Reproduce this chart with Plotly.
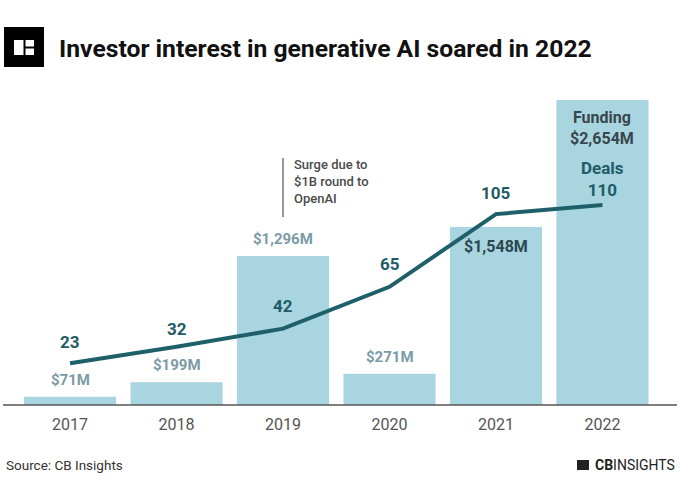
import plotly.graph_objects as go

years = ["2017", "2018", "2019", "2020", "2021", "2022"]
funding = [71, 199, 1296, 271, 1548, 2654]
deals = [23, 32, 42, 65, 105, 110]
funding_labels = ["$71M", "$199M", "$1,296M", "$271M", "$1,548M", "$2,654M"]

W, H = 680, 498
L, R, T, B = 3, 3, 95, 93
pw, ph = W - L - R, H - T - B

def px(x):
    return (x - L) / pw

def py(y):
    return 1 - (y - T) / ph

bar_color = "#a8d5e0"
line_color = "#1e5f69"
deal_txt = "#1f5c66"
fund_txt = "#7b9ba6"
font = "Roboto"

fig = go.Figure()
fig.add_trace(go.Bar(x=years, y=funding, marker_color=bar_color, marker_line_width=0,
                     hoverinfo="skip", yaxis="y"))
fig.add_trace(go.Scatter(x=years, y=deals, mode="lines", yaxis="y2",
                         line=dict(color=line_color, width=4), hoverinfo="skip"))

ann = []
# deal labels
for i, d in enumerate(deals):
    if i == 5:
        ann.append(dict(x=i, y=d, xref="x", yref="y2", text="<b>Deals<br>110</b>", showarrow=False,
                        yanchor="bottom", yshift=3, font=dict(family=font, size=17, color=deal_txt)))
    else:
        ys = [9, 6, 11, 11, 9][i]
        ann.append(dict(x=i, y=d, xref="x", yref="y2", text=f"<b>{d}</b>", showarrow=False,
                        yanchor="bottom", yshift=ys, font=dict(family=font, size=17, color=deal_txt)))
# funding labels
for i, (f, lab) in enumerate(zip(funding, funding_labels)):
    if i < 4:
        ann.append(dict(x=i, y=f, xref="x", yref="y", text=f"<b>{lab}</b>", showarrow=False,
                        yanchor="bottom", yshift=6, font=dict(family=font, size=15, color=fund_txt)))
    elif i == 4:
        ann.append(dict(x=i, y=f, xref="x", yref="y", text=f"<b>{lab}</b>", showarrow=False,
                        yanchor="top", yshift=-8, font=dict(family=font, size=16, color="#2e4650")))
    else:
        ann.append(dict(x=i, y=f, xref="x", yref="y", text=f"<b>Funding<br>{lab}</b>", showarrow=False,
                        yanchor="top", yshift=-6, font=dict(family=font, size=16, color="#38464d")))

# note
ann.append(dict(x=px(292), y=py(155), xref="paper", yref="paper", xanchor="left", yanchor="top",
                align="left", showarrow=False, text="Surge due to<br>$1B round to<br>OpenAI",
                font=dict(family=font, size=13, color="#4a4a4a", weight=500)))
# title
ann.append(dict(x=px(57), y=py(48), xref="paper", yref="paper", xanchor="left", yanchor="middle",
                showarrow=False, text="<b>Investor interest in generative AI soared in 2022</b>",
                font=dict(family=font, size=24.7, color="#111111")))
# source
ann.append(dict(x=px(4), y=py(465), xref="paper", yref="paper", xanchor="left", yanchor="middle",
                showarrow=False, text="Source: CB Insights",
                font=dict(family=font, size=13.5, color="#333333")))
ann.append(dict(x=px(677), y=py(465), xref="paper", yref="paper", xanchor="right", yanchor="middle",
                showarrow=False, text="<b>CB</b>INSIGHTS",
                font=dict(family=font, size=14, color="#222222")))

shapes = []
# axis baseline
shapes.append(dict(type="line", xref="paper", yref="paper", x0=px(3), x1=px(677), y0=py(405), y1=py(405),
                   line=dict(color="#555555", width=1.5)))
# note line
shapes.append(dict(type="line", xref="paper", yref="paper", x0=px(283), x1=px(283), y0=py(158), y1=py(217),
                   line=dict(color="#555555", width=1.2)))
# logo
shapes.append(dict(type="rect", xref="paper", yref="paper", x0=px(4), x1=px(44), y0=py(67), y1=py(27),
                   fillcolor="#000000", line_width=0))
shapes.append(dict(type="rect", xref="paper", yref="paper", x0=px(14), x1=px(34), y0=py(55), y1=py(40),
                   fillcolor="#ffffff", line_width=0))
shapes.append(dict(type="line", xref="paper", yref="paper", x0=px(24.5), x1=px(24.5), y0=py(55), y1=py(40),
                   line=dict(color="#000000", width=2)))
shapes.append(dict(type="line", xref="paper", yref="paper", x0=px(24.5), x1=px(34), y0=py(47.5), y1=py(47.5),
                   line=dict(color="#000000", width=2)))
# small footer logo
shapes.append(dict(type="rect", xref="paper", yref="paper", x0=px(577), x1=px(589), y0=py(470), y1=py(460),
                   fillcolor="#222222", line_width=0))

fig.update_layout(
    width=W, height=H, margin=dict(l=L, r=R, t=T, b=B),
    paper_bgcolor="white", plot_bgcolor="white", showlegend=False, bargap=0.135,
    xaxis=dict(type="category", range=[-0.63, 5.70], showgrid=False, zeroline=False, showline=False, ticks="",
               tickfont=dict(family=font, size=16, color="#555555"), ticklabelstandoff=8, fixedrange=True),
    yaxis=dict(range=[0, 310 / (305 / 2654)], visible=False, fixedrange=True),
    yaxis2=dict(range=[0, 310 / (200 / 110)], visible=False, overlaying="y", fixedrange=True),
    annotations=ann, shapes=shapes,
)
fig.write_html("out.html", post_script="document.body.style.margin='0';",
               config={"displayModeBar": False})
